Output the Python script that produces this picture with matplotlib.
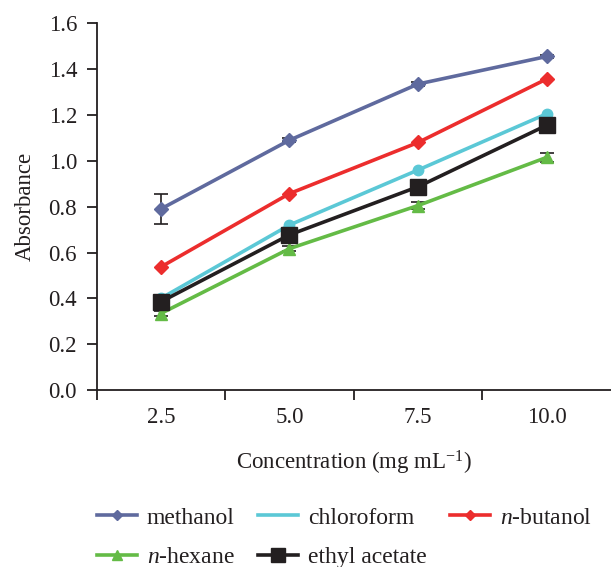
import matplotlib
matplotlib.use("Agg")
import matplotlib.pyplot as plt
from matplotlib.lines import Line2D
import numpy as np

plt.rcParams['font.family'] = 'Liberation Serif'
plt.rcParams['mathtext.fontset'] = 'custom'
plt.rcParams['mathtext.rm'] = 'Liberation Serif'
plt.rcParams['mathtext.it'] = 'Liberation Serif:italic'

concentrations = ['2.5', '5.0', '7.5', '10.0']

methanol = [0.79, 1.09, 1.335, 1.455]
methanol_err = [0.067, 0.01, 0.01, 0.008]
chloroform = [0.40, 0.72, 0.96, 1.205]
butanol = [0.537, 0.857, 1.08, 1.357]
hexane = [0.334, 0.617, 0.805, 1.015]
hexane_err = [0.01, 0.01, 0.015, 0.02]
ethyl_acetate = [0.385, 0.677, 0.887, 1.155]

c_meth = '#5f6a9e'
c_chl = '#5bc8d6'
c_but = '#ec2d2d'
c_hex = '#64bb46'
c_eth = '#231f20'
ink = '#231f20'
fs = 16.5

fig = plt.figure(figsize=(6.11, 5.67), dpi=100)
ax = fig.add_axes([0.158, 0.312, 0.842, 0.647])

x = np.arange(len(concentrations))
lw = 2.6

ax.errorbar(x, methanol, yerr=methanol_err, color=c_meth, lw=lw, marker='D', ms=7,
            ecolor=ink, elinewidth=1.2, capsize=5, capthick=1.2, zorder=3)
ax.plot(x, chloroform, color=c_chl, lw=lw, marker='o', ms=7.5, zorder=3)
ax.plot(x, butanol, color=c_but, lw=lw, marker='D', ms=7, zorder=3)
ax.errorbar(x, hexane, yerr=hexane_err, color=c_hex, lw=lw, marker='^', ms=9,
            ecolor=ink, elinewidth=1.2, capsize=5, capthick=1.2, zorder=4)
ax.plot(x, ethyl_acetate, color=c_eth, lw=lw, marker='s', ms=11, zorder=5)

ax.set_xlim(-0.5, 3.5)
ax.set_ylim(0, 1.6)
yt = np.arange(0, 1.61, 0.2)
ax.set_yticks(yt)
ax.set_yticklabels(['%.1f' % v for v in yt])
ax.set_xticks(np.arange(-0.5, 3.5, 1.0))
ax.set_xticklabels([])
ax.set_xticks(x, minor=True)
ax.set_xticklabels(concentrations, minor=True)
ax.tick_params(axis='both', which='major', length=7, width=1.3, direction='out', color=ink)
ax.tick_params(axis='both', which='both', labelsize=fs, labelcolor=ink)
ax.tick_params(axis='x', which='minor', length=0, pad=12)
ax.tick_params(axis='y', pad=7)

for s in ['top', 'right']:
    ax.spines[s].set_visible(False)
for s in ['left', 'bottom']:
    ax.spines[s].set_linewidth(1.3)
    ax.spines[s].set_color(ink)

ax.set_ylabel('Absorbance', fontsize=fs, color=ink, labelpad=9)
ax.set_xlabel('Concentration (mg mL$^{-1}$)', fontsize=fs, color=ink, labelpad=15)

handles = [
    Line2D([], [], color=c_meth, lw=lw, marker='D', ms=5),
    Line2D([], [], color=c_hex, lw=lw, marker='^', ms=7),
    Line2D([], [], color=c_chl, lw=lw),
    Line2D([], [], color=c_eth, lw=lw, marker='s', ms=10),
    Line2D([], [], color=c_but, lw=lw, marker='D', ms=5),
]
labels = ['methanol', '$\\it{n}$-hexane', 'chloroform', 'ethyl acetate', '$\\it{n}$-butanol']
fig.legend(handles, labels, loc='upper left', bbox_to_anchor=(97 / 611, 1 - 507 / 567), ncol=3,
           frameon=False, fontsize=17, handlelength=1.7, handletextpad=0.4,
           columnspacing=1.0, labelspacing=0.75, labelcolor=ink, borderpad=0,
           borderaxespad=0)

fig.savefig('out.png', dpi=100)
